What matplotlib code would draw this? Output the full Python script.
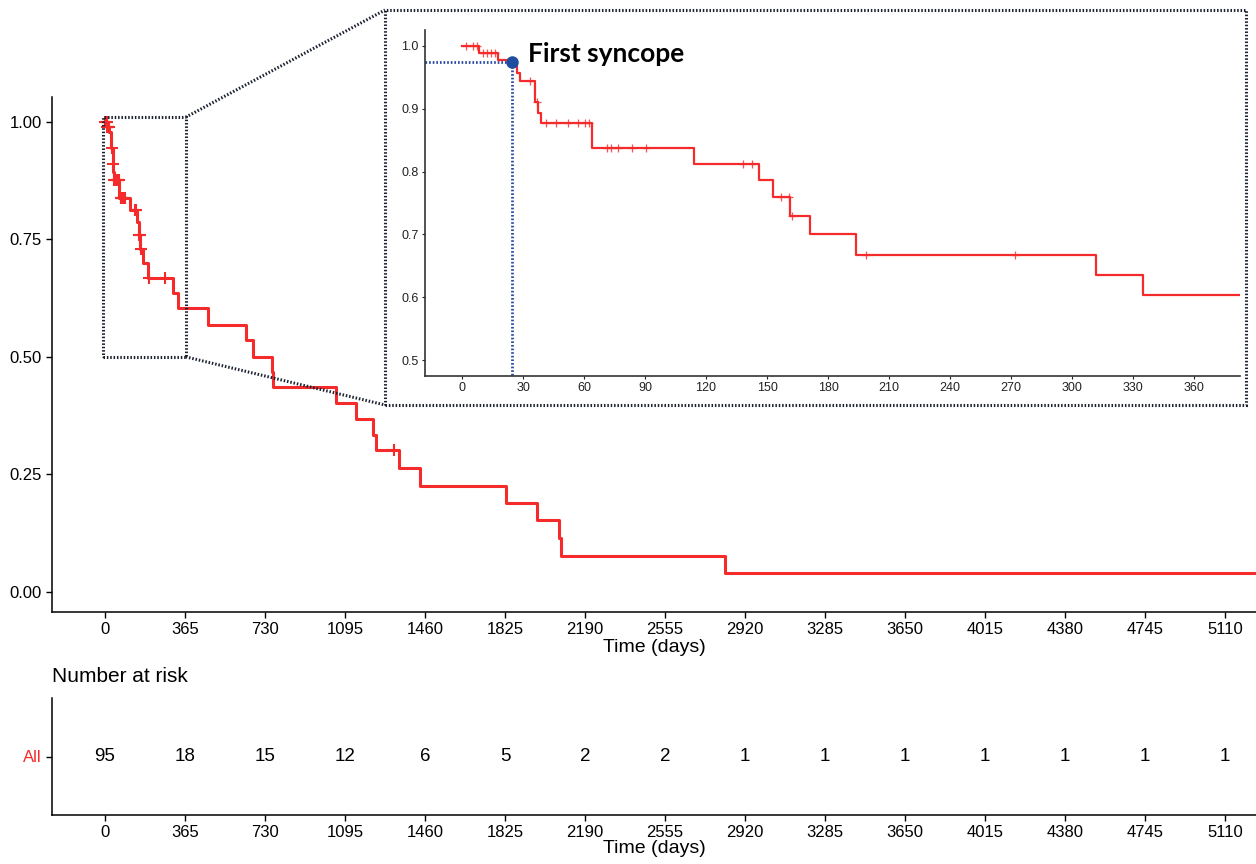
import numpy as np
import matplotlib.pyplot as plt
from matplotlib.patches import Rectangle
from matplotlib.lines import Line2D

plt.rcParams['font.family'] = ['Liberation Sans', 'DejaVu Sans']

# Kaplan-Meier steps: day of event, survival just after it
event_days = [0, 8.5, 17.5, 25, 27, 28.5, 36, 37.5, 39, 64, 114, 146, 153, 161.5, 171, 194,
              312, 335, 468, 644, 676, 760, 768, 1054, 1144, 1224, 1236, 1340, 1437, 1828,
              1969, 2069, 2082, 2829]
surv = [1.0, 0.989, 0.978, 0.968, 0.956, 0.944, 0.910, 0.893, 0.877, 0.837, 0.812, 0.786,
        0.759, 0.730, 0.700, 0.668, 0.635, 0.603, 0.568, 0.536, 0.500, 0.467, 0.436, 0.401,
        0.368, 0.334, 0.301, 0.263, 0.226, 0.189, 0.152, 0.114, 0.077, 0.039]
last_day = 5251

# censored patients (+ marks)
censor_days = [2, 5.6, 7.5, 10.5, 12.1, 14.1, 16.2, 33.4, 36.8, 41.3, 46.2, 52.3, 57.2, 60.5,
               62.6, 71.1, 73.3, 76.9, 83.4, 90.3, 138, 142.8, 156.9, 160.8, 162.2, 198.7,
               272, 1320]

# first syncope marker
syncope_day = 24.5
syncope_surv = 0.9745

# number at risk table
risk_days = [0, 365, 730, 1095, 1460, 1825, 2190, 2555, 2920, 3285, 3650, 4015, 4380, 4745, 5110]
at_risk = [95, 18, 15, 12, 6, 5, 2, 2, 1, 1, 1, 1, 1, 1, 1]

inset_xticks = [0, 30, 60, 90, 120, 150, 180, 210, 240, 270, 300, 330, 360]
inset_yticks = [0.5, 0.6, 0.7, 0.8, 0.9, 1.0]

RED = '#f52a2a'
DOT = '#1c2230'
DOTS = (0, (0.5, 0.6))
W, H = 1256, 864


def px_box(l, t, r, b):
    return [l / W, 1 - b / H, (r - l) / W, (b - t) / H]


x_step = event_days + [last_day]
y_step = surv + [surv[-1]]
idx = np.searchsorted(event_days, censor_days, side='right') - 1
censor_surv = np.array(surv)[idx]

fig = plt.figure(figsize=(W / 100, H / 100), dpi=100)

# === main KM plot ===
ax = fig.add_axes(px_box(52, 97, 1256, 612))
ax.step(x_step, y_step, where='post', color=RED, lw=2.2, zorder=3)
ax.plot(censor_days, censor_surv, '+', color=RED, ms=8, mew=1.5, zorder=3)
ax.set_xlim(-242, last_day)
ax.set_ylim(-0.043, 1.053)
ax.set_xticks(risk_days)
ax.set_yticks([0, 0.25, 0.5, 0.75, 1.0])
ax.set_yticklabels(['0.00', '0.25', '0.50', '0.75', '1.00'])
ax.set_xlabel('Time (days)', fontsize=14, labelpad=1)
for s in ['top', 'right']:
    ax.spines[s].set_visible(False)
for s in ['left', 'bottom']:
    ax.spines[s].set_linewidth(1.1)
ax.tick_params(labelsize=12, length=4, width=1, colors='black')

# zoom box on the main plot, connectors and the big inset frame
ax.add_patch(Rectangle((-10, 0.5), 378, 0.51, fill=False, ec=DOT, lw=2.2,
                       ls=DOTS, zorder=4, clip_on=False))
to_fig = fig.transFigure.inverted()
for xa, ya, xb, yb in [(368, 1.01, 385, 10), (368, 0.5, 385, 405)]:
    fx, fy = to_fig.transform(ax.transData.transform((xa, ya)))
    fig.add_artist(Line2D([fx, xb / W], [fy, 1 - yb / H], transform=fig.transFigure,
                          color=DOT, lw=2.2, ls=DOTS))
fig.add_artist(Rectangle((385 / W, 1 - 405 / H), 861 / W, 395 / H, transform=fig.transFigure,
                         fill=False, ec=DOT, lw=2.2, ls=DOTS))

# === inset: first year ===
axi = fig.add_axes(px_box(425, 30, 1240, 376))
axi.patch.set_alpha(0)
axi.step(x_step, y_step, where='post', color=RED, lw=1.6, zorder=3)
axi.plot(censor_days, censor_surv, '+', color=RED, ms=6, mew=0.9, alpha=0.8, zorder=3)
axi.set_xlim(-18.2, 382.6)
axi.set_ylim(0.475, 1.025)
axi.plot([-18.2, syncope_day], [syncope_surv, syncope_surv], color='#2b4aa3', lw=2,
         ls=(0, (0.6, 0.7)), zorder=2)
axi.plot([syncope_day, syncope_day], [0.477, syncope_surv], color='#2b4aa3', lw=2,
         ls=(0, (0.6, 0.7)), zorder=2)
axi.plot(syncope_day, syncope_surv, 'o', color='#1f4ea0', ms=8, zorder=4)
axi.text(32.5, syncope_surv, 'First syncope', fontsize=19, fontweight='bold',
         family=['Lato', 'DejaVu Sans'], va='baseline', ha='left')
axi.set_xticks(inset_xticks)
axi.set_yticks(inset_yticks)
axi.set_yticklabels([f'{v:.1f}' for v in inset_yticks])
for s in ['top', 'right']:
    axi.spines[s].set_visible(False)
for s in ['left', 'bottom']:
    axi.spines[s].set_linewidth(1.2)
    axi.spines[s].set_color('#333333')
axi.tick_params(labelsize=9, length=2.5, width=0.8, colors='#222222', pad=2)

# === number at risk ===
fig.text(52 / W, 1 - 676 / H, 'Number at risk', fontsize=15, va='center', ha='left')
axr = fig.add_axes(px_box(52, 698, 1256, 815))
axr.set_xlim(-242, last_day)
axr.set_ylim(-1, 1)
for d, n in zip(risk_days, at_risk):
    axr.text(d, 0, str(n), fontsize=13.5, ha='center', va='center')
axr.set_xticks(risk_days)
axr.set_yticks([0])
axr.set_yticklabels(['All'])
axr.set_xlabel('Time (days)', fontsize=14, labelpad=0)
for s in ['top', 'right']:
    axr.spines[s].set_visible(False)
for s in ['left', 'bottom']:
    axr.spines[s].set_linewidth(1.1)
axr.tick_params(labelsize=12, length=4, width=1, colors='black')
axr.tick_params(axis='y', labelcolor=RED)

fig.savefig('out.png', dpi=100)
